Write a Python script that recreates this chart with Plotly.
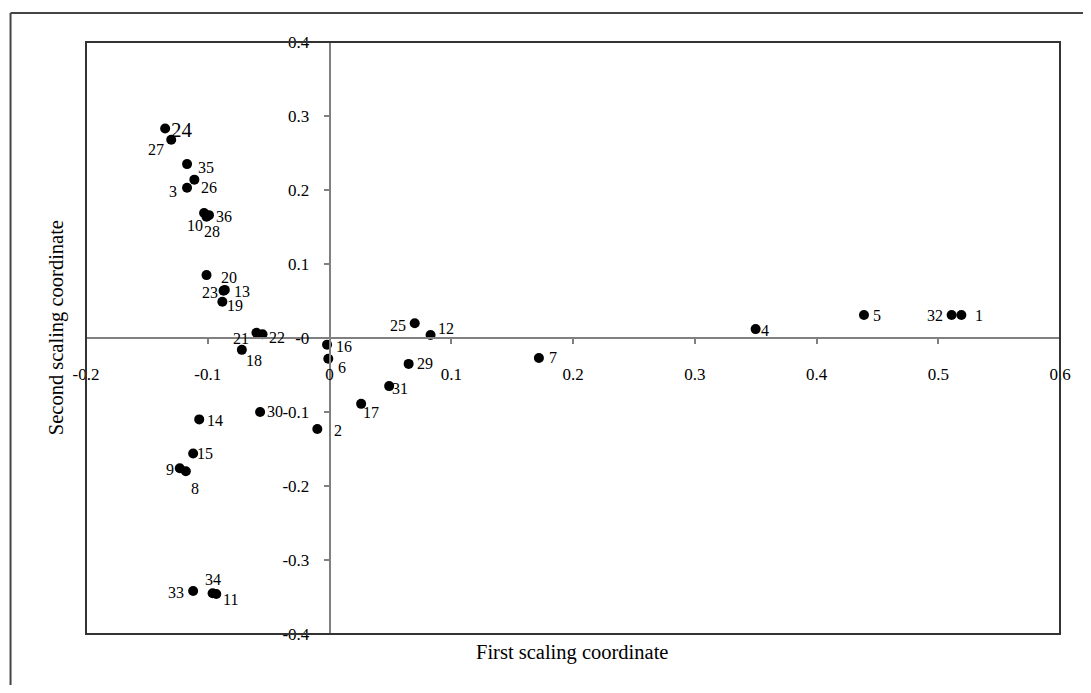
import plotly.graph_objects as go

# ---- data ----
point_labels = [str(i) for i in range(1, 37)]
first_coord = [0.519, -0.010, -0.117, 0.350, 0.439, -0.001, 0.172, -0.118, -0.123, -0.103,
               -0.093, 0.083, -0.086, -0.107, -0.112, -0.002, 0.026, -0.072, -0.088, -0.101,
               -0.060, -0.055, -0.087, -0.135, 0.070, -0.111, -0.130, -0.101, 0.065, -0.057,
               0.049, 0.511, -0.112, -0.096, -0.117, -0.099]
second_coord = [0.031, -0.123, 0.203, 0.012, 0.031, -0.028, -0.027, -0.180, -0.176, 0.169,
                -0.346, 0.004, 0.065, -0.110, -0.156, -0.009, -0.089, -0.016, 0.049, 0.085,
                0.007, 0.005, 0.064, 0.283, 0.020, 0.214, 0.268, 0.164, -0.035, -0.100,
                -0.065, 0.031, -0.342, -0.345, 0.235, 0.166]

x_tickvals = [-0.2, -0.1, 0, 0.1, 0.2, 0.3, 0.4, 0.5, 0.6]
x_ticktext = ["-0.2", "-0.1", "0", "0.1", "0.2", "0.3", "0.4", "0.5", "0.6"]
y_tickvals = [-0.4, -0.3, -0.2, -0.1, 0, 0.1, 0.2, 0.3, 0.4]
y_ticktext = ["-0.4", "-0.3", "-0.2", "-0.1", "-0", "0.1", "0.2", "0.3", "0.4"]

# ---- label placement (style: pixel offsets dx, dy screen-down) ----
label_offsets = [(18, 0), (21, 1), (-14, 4), (9, 1), (13, 0), (14, 9), (14, 0), (9, 17),
                 (-10, 1), (-9, 13), (14, 5), (15, -7), (17, 2), (16, 1), (12, 0), (17, 2),
                 (10, 9), (12, 11), (13, 4), (22, 2), (-15, 6), (14, 3), (-14, 2), (17, 1),
                 (-17, 2), (15, 8), (-15, 10), (5, 15), (16, 0), (15, -1), (11, 2), (-17, 0),
                 (-17, 1), (0, -14), (19, 3), (15, 1)]

FONT = "Liberation Serif"
BODY = 8  # default page body margin
W, H = 1091 - 2 * BODY, 693 - 2 * BODY
# target plot area on screen: x 86..1067, y 42..634
ml = 86 - BODY
mt = 42 - BODY
mr = W - (1067 - BODY)
mb = H - (634 - BODY)
pw = W - ml - mr
ph = H - mt - mb

fig = go.Figure()
fig.add_trace(go.Scatter(
    x=first_coord, y=second_coord, mode="markers",
    marker=dict(color="black", size=10, symbol="circle"),
    hoverinfo="text", text=point_labels, showlegend=False,
))

annotations = []
for lab, xv, yv, (dx, dy) in zip(point_labels, first_coord, second_coord, label_offsets):
    annotations.append(dict(
        x=xv, y=yv, xref="x", yref="y", text=lab, showarrow=False,
        xanchor="center", yanchor="middle", xshift=dx, yshift=-dy,
        font=dict(family=FONT, size=21 if lab == "24" else 16, color="black"),
    ))

# axis titles (screen targets: x-title centre y=652, y-title centre x=55, y=328)
annotations.append(dict(
    x=(575 - 86) / pw, y=-(652 - 634) / ph, xref="paper", yref="paper",
    text="First scaling coordinate", showarrow=False, xanchor="center", yanchor="middle",
    font=dict(family=FONT, size=20.5, color="black"),
))
annotations.append(dict(
    x=-(86 - 56) / pw, y=(634 - 328) / ph, xref="paper", yref="paper",
    text="Second scaling coordinate", showarrow=False, textangle=-90,
    xanchor="center", yanchor="middle",
    font=dict(family=FONT, size=20.5, color="black"),
))

outer_x = (10 - 86) / pw
outer_y = 1 + (42 - 13) / ph

shapes = [
    dict(type="rect", xref="paper", yref="paper", x0=0, y0=0, x1=1, y1=1,
         line=dict(color="#333333", width=2), layer="above"),
    dict(type="line", xref="paper", yref="paper", x0=outer_x, y0=-0.3, x1=outer_x, y1=outer_y,
         line=dict(color="#444444", width=2)),
    dict(type="line", xref="paper", yref="paper", x0=outer_x, y0=outer_y, x1=1.2, y1=outer_y,
         line=dict(color="#444444", width=2)),
]

fig.update_layout(
    width=W, height=H,
    margin=dict(l=ml, r=mr, t=mt, b=mb, pad=0),
    paper_bgcolor="white", plot_bgcolor="white",
    annotations=annotations, shapes=shapes,
    xaxis=dict(
        range=[-0.2, 0.6], anchor="free", position=0.5,
        showgrid=False, zeroline=False, showline=True, linecolor="#808080", linewidth=1.5,
        ticks="outside", ticklen=5, tickcolor="#808080", tickwidth=1.5,
        tickvals=x_tickvals, ticktext=x_ticktext, ticklabelstandoff=16,
        tickfont=dict(family=FONT, size=17, color="black"),
    ),
    yaxis=dict(
        range=[-0.4, 0.4], anchor="free", position=0.25,
        showgrid=False, zeroline=False, showline=True, linecolor="#808080", linewidth=1.5,
        ticks="outside", ticklen=5, tickcolor="#808080", tickwidth=1.5,
        tickvals=y_tickvals, ticktext=y_ticktext, ticklabelstandoff=11,
        tickfont=dict(family=FONT, size=17, color="black"),
    ),
)

fig.write_html("out.html")
